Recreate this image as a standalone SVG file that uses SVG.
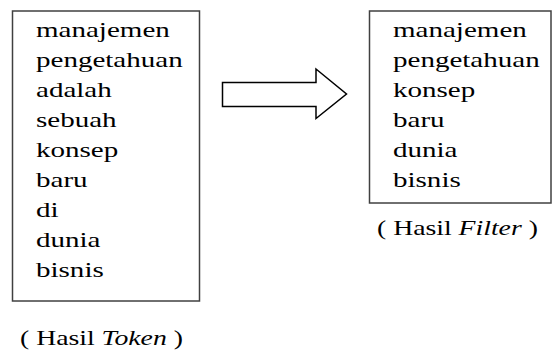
<svg xmlns="http://www.w3.org/2000/svg" width="552" height="353" viewBox="0 0 552 353">
<style>
.box{fill:#fff;stroke:#404040;stroke-width:1.5}
.t{font-size:22px;fill:#000}
.arrow{fill:#fff;stroke:#000;stroke-width:1.5;stroke-linejoin:miter}
</style>
<rect width="552" height="353" fill="#fff"/>
<g font-family="'Liberation Serif', 'Times New Roman', 'DejaVu Serif', serif">
<g id="token">
<rect class="box" x="12.5" y="11" width="187" height="290"/>
<text class="t" transform="matrix(1.32,0,0,1,36,37)">manajemen</text>
<text class="t" transform="matrix(1.32,0,0,1,36,67)">pengetahuan</text>
<text class="t" transform="matrix(1.32,0,0,1,36,97)">adalah</text>
<text class="t" transform="matrix(1.32,0,0,1,36,127)">sebuah</text>
<text class="t" transform="matrix(1.32,0,0,1,36,157)">konsep</text>
<text class="t" transform="matrix(1.32,0,0,1,36,187)">baru</text>
<text class="t" transform="matrix(1.32,0,0,1,36,217)">di</text>
<text class="t" transform="matrix(1.32,0,0,1,36,247)">dunia</text>
<text class="t" transform="matrix(1.32,0,0,1,36,277)">bisnis</text>
</g>
<g id="label-token">
<text class="t" transform="matrix(1.26,0,0,1,20,345)">( Hasil <tspan font-style="italic">Token</tspan> )</text>
</g>
<g id="connectors">
<polygon class="arrow" points="222.5,82.5 316,82.5 316,69 346.5,94 316,118.5 316,106.5 222.5,106.5"/>
</g>
<g id="filter">
<rect class="box" x="369.5" y="11" width="181.5" height="192"/>
<text class="t" transform="matrix(1.32,0,0,1,393,37)">manajemen</text>
<text class="t" transform="matrix(1.32,0,0,1,393,67)">pengetahuan</text>
<text class="t" transform="matrix(1.32,0,0,1,393,97)">konsep</text>
<text class="t" transform="matrix(1.32,0,0,1,393,127)">baru</text>
<text class="t" transform="matrix(1.32,0,0,1,393,157)">dunia</text>
<text class="t" transform="matrix(1.32,0,0,1,393,187)">bisnis</text>
</g>
<g id="label-filter">
<text class="t" transform="matrix(1.26,0,0,1,377,235)">( Hasil <tspan font-style="italic">Filter</tspan> )</text>
</g>
</g>
</svg>
